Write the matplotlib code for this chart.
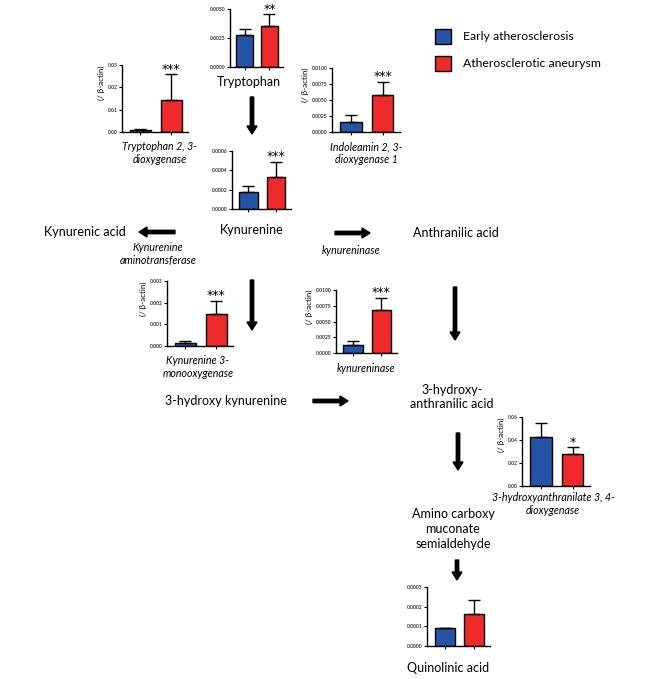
import numpy as np
import matplotlib
matplotlib.use('Agg')
import matplotlib.pyplot as plt
from matplotlib.patches import Rectangle

plt.rcParams['font.family'] = ['Lato', 'DejaVu Sans']

W, H = 661, 679  # figure size in pixels

groups = ['Early atherosclerosis', 'Atherosclerotic aneurysm']
colors = ['#2553a6', '#ee2a2a']

# bar means and upper error (SD) for each gene / metabolite
trp_mean = [0.0028, 0.0035]
trp_err = [0.0005, 0.00103]
tdo_mean = [0.0008, 0.0143]
tdo_err = [0.0005, 0.0115]
ido_mean = [0.00156, 0.0058]
ido_err = [0.00104, 0.0020]
kyn_mean = [0.000176, 0.000334]
kyn_err = [0.000062, 0.000156]
kmo_mean = [0.00013, 0.0015]
kmo_err = [0.00012, 0.0006]
kynu_mean = [0.0012, 0.0068]
kynu_err = [0.0007, 0.0020]
haao_mean = [0.0423, 0.0278]
haao_err = [0.0122, 0.0058]
quin_mean = [0.00009, 0.000161]
quin_err = [0.0, 0.000073]

fig = plt.figure(figsize=(W / 100, H / 100), dpi=100)

# full-figure canvas in pixel coords for the pathway text and arrows
canvas = fig.add_axes([0, 0, 1, 1])
canvas.set_xlim(0, W)
canvas.set_ylim(H, 0)
canvas.axis('off')


def chart(box, mean, err, ymax, step, fmt, stars='', ylabel=True):
    l, t, r, b = box
    ax = fig.add_axes([l / W, 1 - b / H, (r - l) / W, (b - t) / H])
    ax.patch.set_alpha(0)
    x = np.arange(len(mean))
    ax.bar(x, mean, 0.68, color=colors, edgecolor='black', linewidth=1.0, zorder=2)
    ax.errorbar(x, mean, yerr=[np.zeros(len(err)), err], fmt='none', ecolor='black',
                elinewidth=1.0, capsize=4, capthick=1.0, zorder=3)
    ax.set_xlim(-0.6, 1.55)
    ax.set_ylim(0, ymax)
    for s in ['top', 'right']:
        ax.spines[s].set_visible(False)
    for s in ['left', 'bottom']:
        ax.spines[s].set_linewidth(1.0)
    ax.set_xticks(x)
    ax.set_xticklabels([])
    ax.tick_params(axis='x', length=2.5, width=0.8)
    yt = np.arange(0, ymax + step / 2, step)
    ax.set_yticks(yt)
    ax.set_yticklabels([fmt.format(v) for v in yt], fontweight='bold', color='#333333')
    ax.tick_params(axis='y', labelsize=3.6, length=2, width=0.8, pad=1)
    if ylabel:
        ax.set_ylabel('(/ β-actin)', fontsize=5.8, loc='top', labelpad=2)
    if stars:
        ax.annotate(stars, (1, mean[1] + err[1]), xytext=(0, -1), textcoords='offset points',
                    ha='center', va='bottom', fontsize=9, family='DejaVu Sans',
                    annotation_clip=False)
    return ax


chart((230, 9, 283, 67), trp_mean, trp_err, 0.005, 0.0025, '{:.4f}', '**', ylabel=False)
chart((122, 65, 188, 132), tdo_mean, tdo_err, 0.03, 0.01, '{:.2f}', '***')
chart((332, 68, 400, 132), ido_mean, ido_err, 0.01, 0.0025, '{:.4f}', '***')
chart((232, 151, 291, 209), kyn_mean, kyn_err, 0.0006, 0.0002, '{:.4f}', '***', ylabel=False)
chart((167, 281, 233, 346), kmo_mean, kmo_err, 0.003, 0.001, '{:.3f}', '***')
chart((336, 290, 397, 353), kynu_mean, kynu_err, 0.01, 0.0025, '{:.4f}', '***')
chart((522, 417, 590, 486), haao_mean, haao_err, 0.06, 0.02, '{:.2f}', '*')
chart((427, 587, 490, 646), quin_mean, quin_err, 0.0003, 0.0001, '{:.4f}', ylabel=False)

# metabolites
main_fs = 9
for x, y, s in [(249, 82, 'Tryptophan'), (252, 230, 'Kynurenine'), (85, 232, 'Kynurenic acid'),
                (456, 233, 'Anthranilic acid'), (226, 401, '3-hydroxy kynurenine'),
                (452, 397, '3-hydroxy-\nanthranilic acid'),
                (453, 529, 'Amino carboxy\nmuconate\nsemialdehyde'), (448, 668, 'Quinolinic acid')]:
    canvas.text(x, y, s, ha='center', va='center', fontsize=main_fs, linespacing=1.25)

# enzymes
enz_fs = 7.7
for x, y, s in [(160, 153, 'Tryptophan 2, 3-\ndioxygenase'), (366, 153, 'Indoleamin 2, 3-\ndioxygenase 1'),
                (158, 254, 'Kynurenine\naminotransferase'), (351, 251, 'kynureninase'),
                (198, 367, 'Kynurenine 3-\nmonooxygenase'), (366, 369, 'kynureninase'),
                (553, 504, '3-hydroxyanthranilate 3, 4-\ndioxygenase')]:
    canvas.text(x, y, s, ha='center', va='center', fontsize=enz_fs, style='italic', linespacing=1.2)

# pathway arrows (start x, start y, end x, end y)
arrows = [(252, 97, 252, 134), (175, 232, 139, 232), (335, 233, 370, 233),
          (252, 280, 252, 330), (455, 287, 455, 340), (313, 401, 348, 401),
          (458, 433, 458, 470), (457, 560, 457, 580)]
for x0, y0, x1, y1 in arrows:
    canvas.arrow(x0, y0, x1 - x0, y1 - y0, width=3.4, head_width=10, head_length=8,
                 length_includes_head=True, color='black')

# legend
for i, (g, c) in enumerate(zip(groups, colors)):
    canvas.add_patch(Rectangle((435, 29 + 27 * i), 16, 15, facecolor=c, edgecolor='black', lw=1))
    canvas.text(463, 36.5 + 27 * i, g, ha='left', va='center', fontsize=8.8)

fig.savefig('out.png', dpi=100)
